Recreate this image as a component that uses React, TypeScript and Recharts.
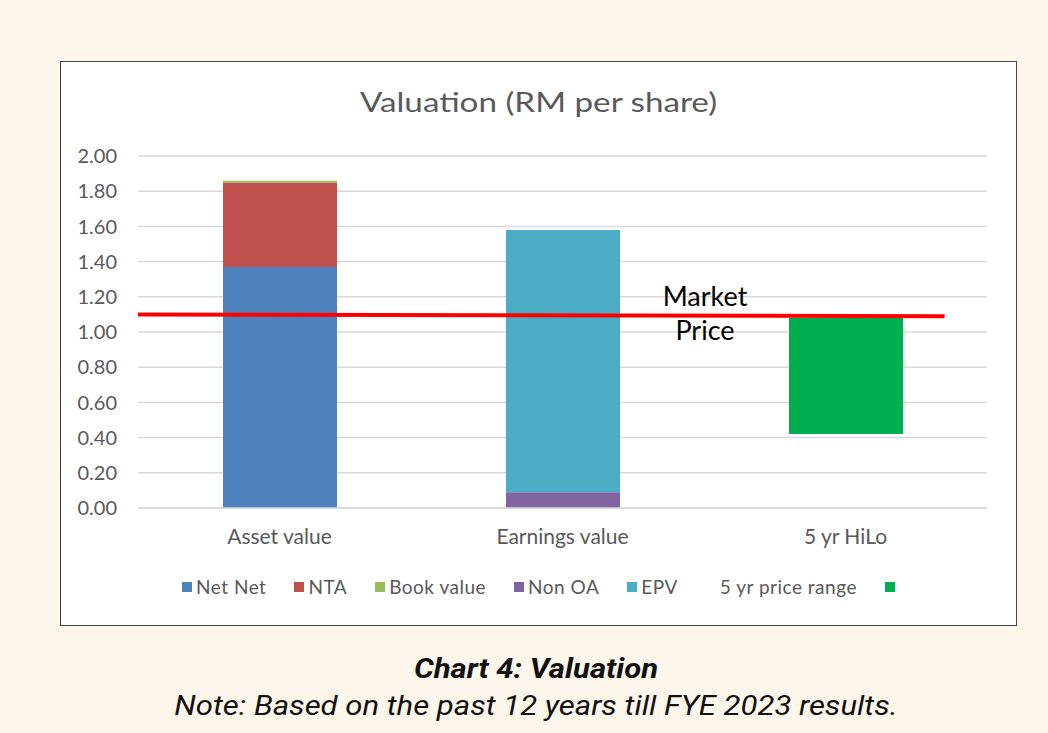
import { ComposedChart, Bar, XAxis, YAxis, CartesianGrid, Legend, ReferenceLine } from 'recharts';

const categories = ['Asset value', 'Earnings value', '5 yr HiLo'];
const netNet = [1.37, null, null];
const nta = [0.48, null, null];
const bookValue = [0.01, null, null];
const nonOA = [null, 0.09, null];
const epv = [null, 1.49, null];
const priceLow = [null, null, 0.42];
const priceRange = [null, null, 0.66];
const yTicks = [0, 0.2, 0.4, 0.6, 0.8, 1.0, 1.2, 1.4, 1.6, 1.8, 2.0];
const marketPrice = [
  { x: 0, y: 1.1 },
  { x: 2.85, y: 1.09 },
];

const series = [
  { key: 'netNet', name: 'Net Net', color: '#4F81BD' },
  { key: 'nta', name: 'NTA', color: '#C0504D' },
  { key: 'bookValue', name: 'Book value', color: '#9BBB59' },
  { key: 'nonOA', name: 'Non OA', color: '#8064A2' },
  { key: 'epv', name: 'EPV', color: '#4BACC6' },
  { key: 'priceLow', name: '5 yr price range', color: 'transparent' },
  { key: 'priceRange', name: '', color: '#00B050' },
];

// categories sit at the middle of each unit band on a numeric x axis
const xTicks = categories.map((_, i) => i + 0.5);

const data = categories.map((name, i) => ({
  name,
  pos: i + 0.5,
  netNet: netNet[i],
  nta: nta[i],
  bookValue: bookValue[i],
  nonOA: nonOA[i],
  epv: epv[i],
  priceLow: priceLow[i],
  priceRange: priceRange[i],
}));

const FONT = 'Lato, "Open Sans", sans-serif';
const GREY = '#595959';

function LegendRow() {
  return (
    <div
      style={{
        display: 'flex',
        justifyContent: 'center',
        alignItems: 'center',
        gap: 28,
        fontFamily: FONT,
        fontSize: 19,
        letterSpacing: 0.5,
        color: GREY,
      }}
    >
      {series.map((s) => (
        <div key={s.key} style={{ display: 'flex', alignItems: 'center', gap: 4 }}>
          <span style={{ width: 10, height: 10, background: s.color, display: 'inline-block' }} />
          {s.name && <span>{s.name}</span>}
        </div>
      ))}
    </div>
  );
}

export default function App() {
  return (
    <div
      style={{
        position: 'absolute',
        left: 0,
        top: 0,
        width: 1048,
        height: 733,
        background: '#FDF6EA',
        overflow: 'hidden',
      }}
    >
      <div
        style={{
          position: 'absolute',
          left: 60,
          top: 61,
          width: 955,
          height: 563,
          background: '#fff',
          border: '1.5px solid #444',
        }}
      />
      <div
        style={{
          position: 'absolute',
          left: 61,
          width: 955,
          top: 85,
          textAlign: 'center',
          fontFamily: FONT,
          fontSize: 27,
          color: GREY,
          transform: 'scaleX(1.23)',
        }}
      >
        Valuation (RM per share)
      </div>
      <div style={{ position: 'absolute', left: 0, top: 0 }}>
        <ComposedChart
          width={1048}
          height={733}
          data={data}
          margin={{ top: 156, right: 61, bottom: 185, left: 78 }}
        >
          <CartesianGrid horizontal vertical={false} stroke="#D9D9D9" strokeWidth={1.5} />
          <XAxis
            dataKey="pos"
            type="number"
            domain={[0, categories.length]}
            ticks={xTicks}
            tickFormatter={(v: number) => categories[Math.floor(v)] ?? ''}
            allowDataOverflow
            axisLine={{ stroke: '#D9D9D9', strokeWidth: 1.5 }}
            tickLine={false}
            tickSize={0}
            tickMargin={21}
            height={40}
            tick={{ fill: GREY, fontSize: 21, fontFamily: FONT }}
          />
          <YAxis
            domain={[0, 2]}
            ticks={yTicks}
            tickFormatter={(v: number) => v.toFixed(2)}
            axisLine={false}
            tickLine={false}
            tickSize={0}
            tickMargin={21}
            width={60}
            tick={{ fill: GREY, fontSize: 20, fontFamily: FONT }}
          />
          {series.map((s) => (
            <Bar
              key={s.key}
              dataKey={s.key}
              name={s.name}
              stackId="a"
              fill={s.color}
              barSize={114}
              isAnimationActive={false}
            />
          ))}
          <ReferenceLine
            segment={marketPrice}
            stroke="#FF0000"
            strokeWidth={4}
            ifOverflow="visible"
          />
          <Legend
            verticalAlign="middle"
            layout="horizontal"
            content={() => <LegendRow />}
            wrapperStyle={{ top: 575, left: 61, width: 955 }}
          />
        </ComposedChart>
      </div>
      <div
        style={{
          position: 'absolute',
          left: 645,
          width: 120,
          top: 279,
          textAlign: 'center',
          fontFamily: FONT,
          fontSize: 27,
          lineHeight: '34px',
          color: '#000',
        }}
      >
        Market
        <br />
        Price
      </div>
      <div
        style={{
          position: 'absolute',
          left: 12,
          width: 1048,
          top: 650,
          textAlign: 'center',
          fontFamily: 'Roboto, sans-serif',
          fontStyle: 'italic',
          color: '#111',
          fontSize: 28,
          lineHeight: '37px',
          transform: 'scaleX(1.11)',
        }}
      >
        <div style={{ fontWeight: 700 }}>Chart 4: Valuation</div>
        <div>Note: Based on the past 12 years till FYE 2023 results.</div>
      </div>
    </div>
  );
}
